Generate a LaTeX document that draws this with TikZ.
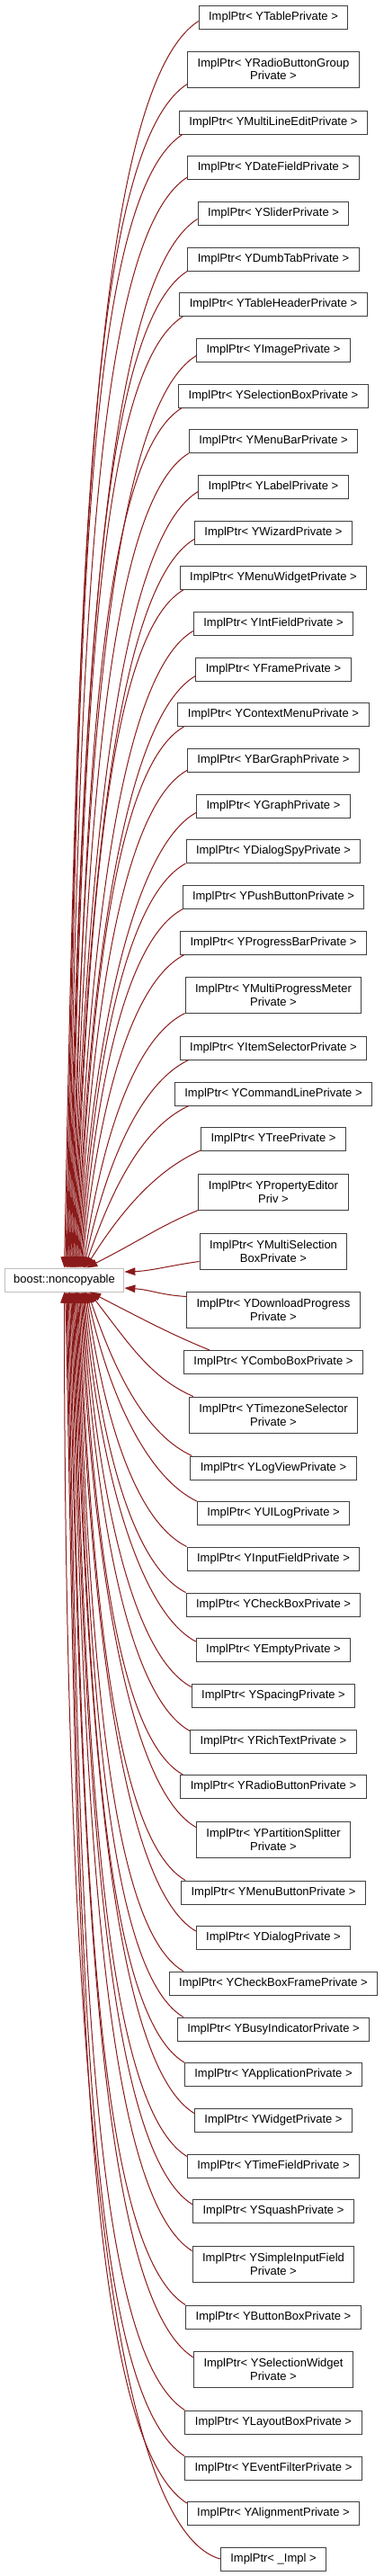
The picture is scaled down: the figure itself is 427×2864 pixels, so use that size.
\documentclass[tikz,border=0pt]{standalone}
\usepackage{fontspec}
\setmainfont{Liberation Sans}
\usetikzlibrary{arrows.meta}
\definecolor{edgecol}{RGB}{139,26,26}
\definecolor{boxcol}{RGB}{64,64,64}
\definecolor{ncbox}{RGB}{191,191,191}
\tikzset{
  cls/.style={draw=boxcol, line width=1pt, fill=white, inner xsep=11pt, inner ysep=2pt,
    minimum height=26pt, align=center, text=black, font=\fontsize{13}{14.7}\selectfont},
  clstwo/.style={cls, minimum height=40pt},
  basecls/.style={cls, draw=ncbox, inner xsep=10pt},
  edge/.style={draw=edgecol, line width=1pt, {Triangle[length=12pt,width=8.5pt]}-}
}
\newcommand\upedge[4]{%
  \pgfmathsetmacro\ex{26*(1-#2/1390)}%
  \pgfmathsetmacro\cx{14+90*exp(-#2/110)}%
  \pgfmathsetmacro\ca{-0.5*#2}%
  \pgfmathsetmacro\cb{-(40+0.06*#2)}%
  \pgfmathsetmacro\cc{15+0.047*#2}%
  \draw[edge] ([xshift=\ex pt]nc.north) .. controls +(\cx,\ca) and +(\cb,\cc) .. ([xshift=#3pt,yshift=#4pt]#1.south west);%
}
\newcommand\dnedge[4]{%
  \pgfmathsetmacro\ex{30*(1-#2/1410)}%
  \pgfmathsetmacro\cx{14+90*exp(-#2/110)}%
  \pgfmathsetmacro\ca{0.5*#2}%
  \pgfmathsetmacro\cb{-(40+0.06*#2)}%
  \pgfmathsetmacro\cc{-(15+0.047*#2)}%
  \draw[edge] ([xshift=\ex pt]nc.south) .. controls +(\cx,\ca) and +(\cb,\cc) .. ([xshift=#3pt,yshift=-#4pt]#1.north west);%
}
\begin{document}
\begin{tikzpicture}[x=1pt,y=-1pt]
\fill[white] (0,0) rectangle (427,2864);
\useasboundingbox (0,0) rectangle (427,2864);
\node[basecls] (nc) at (71.5,1423) {boost::noncopyable};
\node[cls] (n1) at (304,19) {ImplPtr< YTablePrivate >};
\node[clstwo] (n2) at (304,77) {ImplPtr< YRadioButtonGroup\\Private >};
\node[cls] (n3) at (304,136) {ImplPtr< YMultiLineEditPrivate >};
\node[cls] (n4) at (304,186.5) {ImplPtr< YDateFieldPrivate >};
\node[cls] (n5) at (304,237) {ImplPtr< YSliderPrivate >};
\node[cls] (n6) at (304,288) {ImplPtr< YDumbTabPrivate >};
\node[cls] (n7) at (304,338.5) {ImplPtr< YTableHeaderPrivate >};
\node[cls] (n8) at (304,389) {ImplPtr< YImagePrivate >};
\node[cls] (n9) at (304,440) {ImplPtr< YSelectionBoxPrivate >};
\node[cls] (n10) at (304,490.5) {ImplPtr< YMenuBarPrivate >};
\node[cls] (n11) at (304,541) {ImplPtr< YLabelPrivate >};
\node[cls] (n12) at (304,592) {ImplPtr< YWizardPrivate >};
\node[cls] (n13) at (304,642.5) {ImplPtr< YMenuWidgetPrivate >};
\node[cls] (n14) at (304,693) {ImplPtr< YIntFieldPrivate >};
\node[cls] (n15) at (304,744) {ImplPtr< YFramePrivate >};
\node[cls] (n16) at (304,794.5) {ImplPtr< YContextMenuPrivate >};
\node[cls] (n17) at (304,845) {ImplPtr< YBarGraphPrivate >};
\node[cls] (n18) at (304,896) {ImplPtr< YGraphPrivate >};
\node[cls] (n19) at (304,946.5) {ImplPtr< YDialogSpyPrivate >};
\node[cls] (n20) at (304,997) {ImplPtr< YPushButtonPrivate >};
\node[cls] (n21) at (304,1048) {ImplPtr< YProgressBarPrivate >};
\node[clstwo] (n22) at (304,1106) {ImplPtr< YMultiProgressMeter\\Private >};
\node[cls] (n23) at (304,1165) {ImplPtr< YItemSelectorPrivate >};
\node[cls] (n24) at (304,1216) {ImplPtr< YCommandLinePrivate >};
\node[cls] (n25) at (304,1266.5) {ImplPtr< YTreePrivate >};
\node[clstwo] (n26) at (304,1325) {ImplPtr< YPropertyEditor\\Priv >};
\node[clstwo] (n27) at (304,1391) {ImplPtr< YMultiSelection\\BoxPrivate >};
\node[clstwo] (n28) at (304,1456) {ImplPtr< YDownloadProgress\\Private >};
\node[cls] (n29) at (304,1514.5) {ImplPtr< YComboBoxPrivate >};
\node[clstwo] (n30) at (304,1573) {ImplPtr< YTimezoneSelector\\Private >};
\node[cls] (n31) at (304,1632) {ImplPtr< YLogViewPrivate >};
\node[cls] (n32) at (304,1682.5) {ImplPtr< YUILogPrivate >};
\node[cls] (n33) at (304,1733) {ImplPtr< YInputFieldPrivate >};
\node[cls] (n34) at (304,1784) {ImplPtr< YCheckBoxPrivate >};
\node[cls] (n35) at (304,1834.5) {ImplPtr< YEmptyPrivate >};
\node[cls] (n36) at (304,1885) {ImplPtr< YSpacingPrivate >};
\node[cls] (n37) at (304,1936) {ImplPtr< YRichTextPrivate >};
\node[cls] (n38) at (304,1986.5) {ImplPtr< YRadioButtonPrivate >};
\node[clstwo] (n39) at (304,2045) {ImplPtr< YPartitionSplitter\\Private >};
\node[cls] (n40) at (304,2104) {ImplPtr< YMenuButtonPrivate >};
\node[cls] (n41) at (304,2154.5) {ImplPtr< YDialogPrivate >};
\node[cls] (n42) at (304,2205) {ImplPtr< YCheckBoxFramePrivate >};
\node[cls] (n43) at (304,2256) {ImplPtr< YBusyIndicatorPrivate >};
\node[cls] (n44) at (304,2306.5) {ImplPtr< YApplicationPrivate >};
\node[cls] (n45) at (304,2357) {ImplPtr< YWidgetPrivate >};
\node[cls] (n46) at (304,2408) {ImplPtr< YTimeFieldPrivate >};
\node[cls] (n47) at (304,2458.5) {ImplPtr< YSquashPrivate >};
\node[clstwo] (n48) at (304,2517) {ImplPtr< YSimpleInputField\\Private >};
\node[cls] (n49) at (304,2576) {ImplPtr< YButtonBoxPrivate >};
\node[clstwo] (n50) at (304,2634.5) {ImplPtr< YSelectionWidget\\Private >};
\node[cls] (n51) at (304,2693) {ImplPtr< YLayoutBoxPrivate >};
\node[cls] (n52) at (304,2744) {ImplPtr< YEventFilterPrivate >};
\node[cls] (n53) at (304,2794.5) {ImplPtr< YAlignmentPrivate >};
\node[cls] (n54) at (304,2845) {ImplPtr< \_Impl >};
% edges to nodes above
\upedge{n1}{1387}{0}{9}
\upedge{n2}{1317}{0}{4}
\upedge{n3}{1261}{4}{0}
\upedge{n4}{1213.5}{0}{3}
\upedge{n5}{1167}{0}{7}
\upedge{n6}{1109}{0}{0}
\upedge{n7}{1058.5}{4}{0}
\upedge{n8}{1015}{0}{7}
\upedge{n9}{957}{4}{0}
\upedge{n10}{906.5}{0}{0}
\upedge{n11}{864}{0}{8}
\upedge{n12}{811}{0}{6}
\upedge{n13}{754.5}{4}{0}
\upedge{n14}{709}{0}{5}
\upedge{n15}{659}{0}{6}
\upedge{n16}{602.5}{7}{0}
\upedge{n17}{554}{0}{2}
\upedge{n18}{507}{0}{6}
\upedge{n19}{450.5}{0}{0}
\upedge{n20}{400}{1}{0}
\upedge{n21}{349}{5}{0}
\upedge{n22}{284}{0}{0}
\upedge{n23}{232}{10}{0}
\upedge{n24}{181}{16}{0}
\upedge{n25}{131.5}{0}{1}
\upedge{n26}{65}{0}{0}
\draw[edge] ([yshift=9pt]nc.east) .. controls +(30,-1) and +(-30,4) .. ([yshift=9pt]n27.south west);
\draw[edge] ([yshift=-9pt]nc.east) .. controls +(30,2) and +(-30,-2) .. ([yshift=-6pt]n28.north west);
% edges to nodes below
\dnedge{n29}{65.5}{29}{0}
\dnedge{n30}{117}{5}{0}
\dnedge{n31}{183}{2}{0}
\dnedge{n32}{233.5}{0}{0}
\dnedge{n33}{284}{0}{0}
\dnedge{n34}{335}{0}{0}
\dnedge{n35}{390}{0}{4}
\dnedge{n36}{440}{0}{4}
\dnedge{n37}{489}{0}{2}
\dnedge{n38}{537.5}{3}{0}
\dnedge{n39}{596}{0}{7}
\dnedge{n40}{655}{5}{0}
\dnedge{n41}{712}{0}{6}
\dnedge{n42}{756}{16}{0}
\dnedge{n43}{807}{7}{0}
\dnedge{n44}{857.5}{0}{0}
\dnedge{n45}{914}{0}{6}
\dnedge{n46}{962}{0}{3}
\dnedge{n47}{1016}{0}{6}
\dnedge{n48}{1067}{0}{6}
\dnedge{n49}{1127}{0}{0}
\dnedge{n50}{1185.5}{0}{7}
\dnedge{n51}{1244}{0}{0}
\dnedge{n52}{1295}{0}{0}
\dnedge{n53}{1348}{0}{2}
\draw[edge] (nc.south) .. controls +(0,700) and +(-140,-40) .. (n54.west);
\end{tikzpicture}
\end{document}
